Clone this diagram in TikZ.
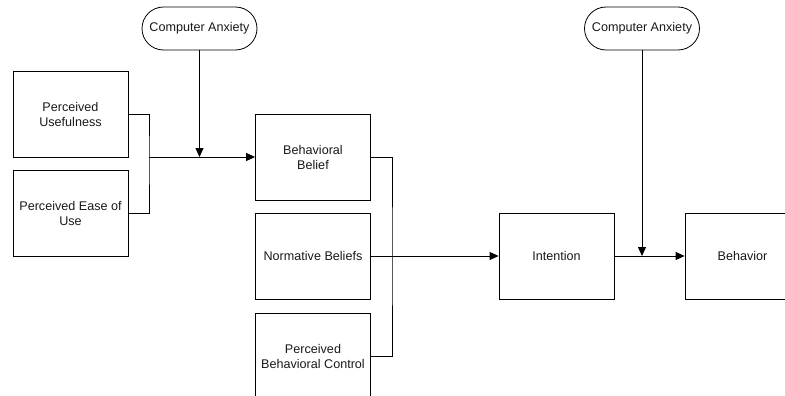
\documentclass[tikz,border=0pt]{standalone}
\usepackage{fontspec}
\setmainfont{Liberation Sans}
\usetikzlibrary{arrows.meta}
\begin{document}
\begin{tikzpicture}[x=1pt,y=-1pt,
  txt/.style={font=\fontsize{12.6}{15}\selectfont,text=black!90},
  box/.style={txt,draw,line width=0.8pt,minimum width=115pt,minimum height=86pt,inner sep=0pt,align=center},
  pill/.style={txt,draw,line width=0.8pt,rounded corners=21.5pt,minimum width=115pt,minimum height=43pt,inner sep=0pt},
  conn/.style={line width=0.8pt},
  arr/.style={conn,-{Triangle[length=9pt,width=8pt]}}]
\useasboundingbox (0,0) rectangle (785,396);
\clip (0,0) rectangle (785,396);
\node[pill] (ca1) at (199.5,28.5) {Computer Anxiety};
\node[box] (pu) at (70.5,114) {Perceived\\Usefulness};
\node[box] (peou) at (70.5,213.5) {Perceived Ease of\\Use};
\node[box] (bb) at (313,157) {Behavioral\\Belief};
\node[box] (nb) at (313,256) {Normative Beliefs};
\node[box] (pbc) at (313,356) {Perceived\\Behavioral Control};
\node[box] (int) at (556.5,256) {Intention};
\node[box] (beh) at (742.5,256) {Behavior};
\node[pill] (ca2) at (642,28.5) {Computer Anxiety};
\coordinate (j1) at (149,157);
\coordinate (j2) at (392,256);
\draw[conn] (pu.east) -| (j1) |- (peou.east);
\draw[arr] (j1) -- (bb.west);
\draw[arr] (ca1.south) -- (ca1.south |- bb.west);
\draw[conn] (bb.east) -| (j2) |- (pbc.east);
\draw[arr] (nb.east) -- (int.west);
\draw[arr] (int.east) -- (beh.west);
\draw[arr] (ca2.south) -- (ca2.south |- int.east);
\end{tikzpicture}
\end{document}
